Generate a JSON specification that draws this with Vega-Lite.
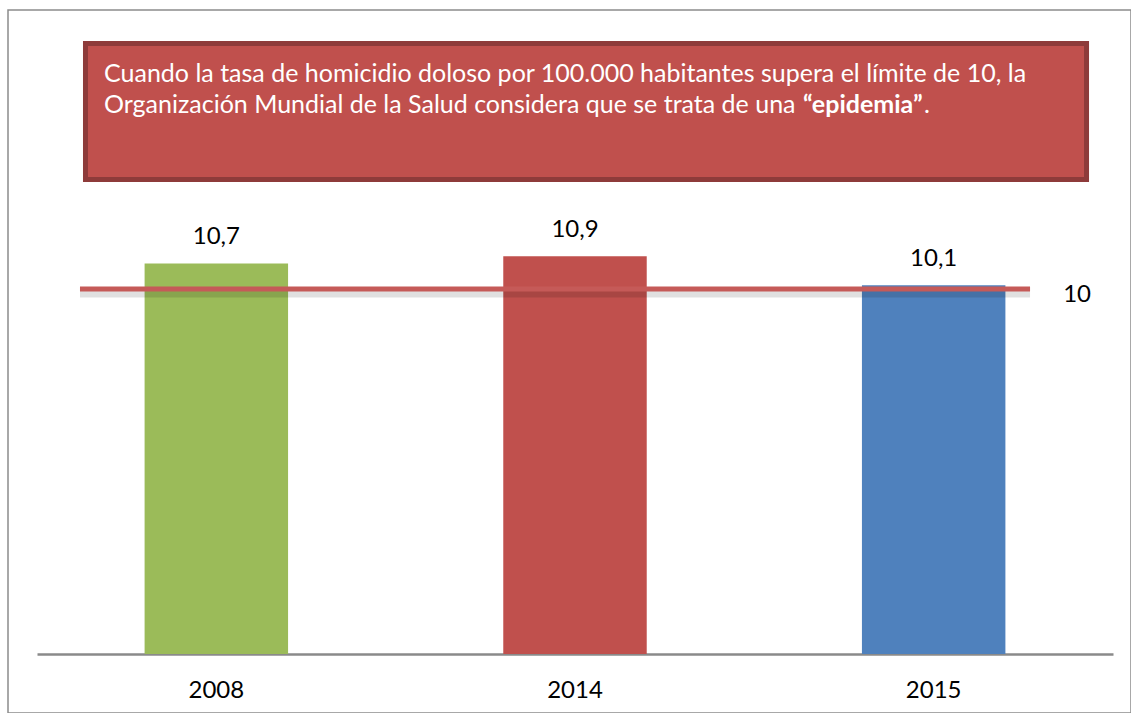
{
  "$schema": "https://vega.github.io/schema/vega-lite/v6.json",
  "width": 1123,
  "height": 703,
  "autosize": {"type": "none"},
  "padding": {"left": 8, "top": 10, "right": 0, "bottom": 0},
  "background": "white",
  "config": {
    "view": {"stroke": "#8c8c8c", "strokeWidth": 1.5},
    "font": "Lato",
    "locale": {"number": {"decimal": ",", "thousands": ".", "grouping": [3], "currency": ["", " €"]}}
  },
  "datasets": {
    "bars": [
      {"year": "2008", "tasa": 10.7},
      {"year": "2014", "tasa": 10.9},
      {"year": "2015", "tasa": 10.1}
    ],
    "box": [{"x0": 0.069, "x1": 0.9604, "y0": 13.0, "y1": 16.726}],
    "texts": [
      {"t": "Cuando la tasa de homicidio doloso por 100.000 habitantes supera el límite de 10, la", "x": 0.0855, "y": 15.67},
      {"t": "Organización Mundial de la Salud considera que se trata de una", "x": 0.0855, "y": 14.82},
      {"t": ".", "x": 0.8157, "y": 14.82}
    ],
    "bold": [
      {"t": "“epidemia”", "x": 0.7079, "y": 14.82}
    ],
    "umbral": [{"x0": 0.0641, "x1": 0.9101, "valor": 10, "etiqueta": "10", "xl": 0.952}]
  },
  "encoding": {
    "y": {"type": "quantitative", "scale": {"domain": [-1.616, 17.644], "nice": false, "zero": false}, "axis": null}
  },
  "layer": [
    {
      "data": {"name": "bars"},
      "encoding": {
        "x": {
          "field": "year", "type": "nominal", "sort": null,
          "scale": {"range": [29, 1105], "paddingInner": 0.6, "paddingOuter": 0.3},
          "axis": {
            "title": null, "labelAngle": 0, "ticks": false, "offset": -59,
            "labelFontSize": 24, "labelFont": "Lato", "labelColor": "#000000",
            "labelPadding": 36, "labelBaseline": "middle",
            "domainColor": "#8a8a8a", "domainWidth": 2.5, "grid": false
          }
        }
      },
      "layer": [
        {
          "mark": {"type": "bar"},
          "encoding": {
            "y": {"field": "tasa", "type": "quantitative"},
            "y2": {"datum": 0},
            "color": {
              "field": "year", "type": "nominal",
              "scale": {"domain": ["2008", "2014", "2015"], "range": ["#9BBB59", "#C0504D", "#4F81BD"]},
              "legend": null
            }
          }
        },
        {
          "mark": {"type": "text", "fontSize": 24, "font": "Lato", "color": "#000000", "baseline": "alphabetic", "dy": -19},
          "encoding": {
            "y": {"field": "tasa", "type": "quantitative"},
            "text": {"field": "tasa", "type": "quantitative", "format": ".1f"}
          }
        }
      ]
    },
    {
      "encoding": {
        "x": {"type": "quantitative", "scale": {"domain": [0, 1], "nice": false, "zero": false}, "axis": null}
      },
      "layer": [
        {
          "data": {"name": "box"},
          "mark": {"type": "rect", "fill": "#C0504D", "stroke": "#8E3B3A", "strokeWidth": 5},
          "encoding": {
            "x": {"field": "x0", "type": "quantitative"},
            "x2": {"field": "x1"},
            "y": {"field": "y1", "type": "quantitative"},
            "y2": {"field": "y0"}
          }
        },
        {
          "data": {"name": "texts"},
          "mark": {"type": "text", "align": "left", "baseline": "alphabetic", "fontSize": 25, "font": "Lato", "color": "#ffffff"},
          "encoding": {
            "x": {"field": "x", "type": "quantitative"},
            "y": {"field": "y", "type": "quantitative"},
            "text": {"field": "t", "type": "nominal"}
          }
        },
        {
          "data": {"name": "bold"},
          "mark": {"type": "text", "align": "left", "baseline": "alphabetic", "fontSize": 25, "font": "Lato", "fontWeight": "bold", "color": "#ffffff"},
          "encoding": {
            "x": {"field": "x", "type": "quantitative"},
            "y": {"field": "y", "type": "quantitative"},
            "text": {"field": "t", "type": "nominal"}
          }
        },
        {
          "data": {"name": "umbral"},
          "mark": {"type": "rule", "color": "#000000", "opacity": 0.12, "strokeWidth": 7, "yOffset": 5},
          "encoding": {
            "x": {"field": "x0", "type": "quantitative"},
            "x2": {"field": "x1"},
            "y": {"field": "valor", "type": "quantitative"}
          }
        },
        {
          "data": {"name": "umbral"},
          "mark": {"type": "rule", "color": "#C55A58", "strokeWidth": 5},
          "encoding": {
            "x": {"field": "x0", "type": "quantitative"},
            "x2": {"field": "x1"},
            "y": {"field": "valor", "type": "quantitative"}
          }
        },
        {
          "data": {"name": "umbral"},
          "mark": {"type": "text", "fontSize": 24, "font": "Lato", "color": "#000000", "baseline": "middle", "dy": 6},
          "encoding": {
            "x": {"field": "xl", "type": "quantitative"},
            "y": {"field": "valor", "type": "quantitative"},
            "text": {"field": "etiqueta", "type": "nominal"}
          }
        }
      ]
    }
  ],
  "resolve": {"scale": {"x": "independent"}}
}
